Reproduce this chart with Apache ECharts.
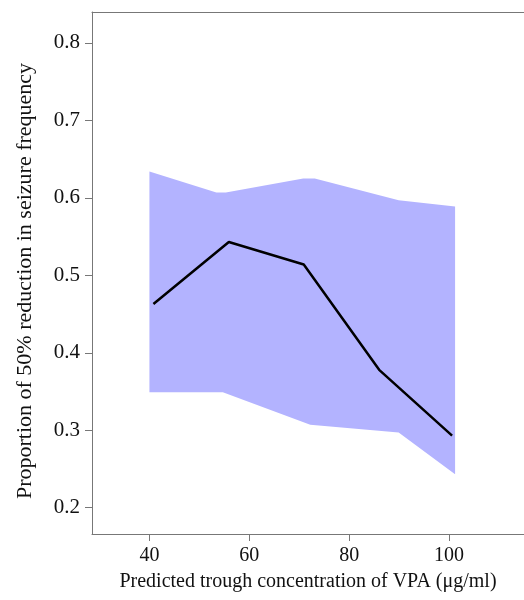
<!DOCTYPE html>
<html>
<head>
<meta charset="utf-8">
<script src="https://cdn.jsdelivr.net/npm/echarts@6/dist/echarts.min.js"></script>
<style>
	html, body { margin: 0; padding: 0; background: #fff; }
	#chart { width: 524px; height: 600px; }
</style>
</head>
<body>
<div id="chart"></div>
<script>
// 평균 곡선
var lineX = [40.8, 55.9, 70.9, 86.0, 100.6];
var lineY = [0.463, 0.543, 0.514, 0.378, 0.293];

// 신뢰구간 위쪽 경계
var upperX = [40.0, 53.4, 55.3, 70.8, 73.1, 89.9, 101.2];
var upperY = [0.634, 0.607, 0.607, 0.625, 0.625, 0.597, 0.589];

// 신뢰구간 아래쪽 경계
var lowerX = [40.0, 45.2, 54.7, 72.2, 89.9, 101.2];
var lowerY = [0.349, 0.349, 0.349, 0.307, 0.297, 0.243];

// 눈금
var xTicks = [40, 60, 80, 100];
var yTicks = [0.2, 0.3, 0.4, 0.5, 0.6, 0.7, 0.8];

var chart = echarts.init(document.getElementById('chart'));

// 데이터 핸들러
var lineData = lineX.map(function (x, i) { return [x, lineY[i]]; });
var bandData = [];
upperX.forEach(function (x, i) { bandData.push([x, upperY[i]]); });
for (var i = lowerX.length - 1; i >= 0; i--) {
	bandData.push([lowerX[i], lowerY[i]]);
}

var font = 'Liberation Serif';

var option = {
	animation: false,
	grid: {
		left: 92,
		top: 12,
		right: -7,
		bottom: 66
	},
	xAxis: [{
		type: 'value',
		min: 28.5,
		max: 115,
		name: 'Predicted trough concentration of VPA (\u03bcg/ml)',
		nameLocation: 'middle',
		nameGap: 38,
		nameTextStyle: {
			fontFamily: font,
			fontSize: 20,
			color: '#111'
		},
		axisLine: { show: true, lineStyle: { color: '#777', width: 1 } },
		axisTick: {
			show: true,
			inside: false,
			length: 7,
			customValues: xTicks,
			lineStyle: { color: '#777' }
		},
		axisLabel: {
			customValues: xTicks,
			margin: 12,
			fontFamily: font,
			fontSize: 20,
			color: '#111'
		},
		splitLine: { show: false }
	}, {
		type: 'value',
		position: 'top',
		min: 28.5,
		max: 115,
		axisLine: { show: true, lineStyle: { color: '#777', width: 1 } },
		axisTick: { show: false },
		axisLabel: { show: false },
		splitLine: { show: false }
	}],
	yAxis: {
		type: 'value',
		min: 0.166,
		max: 0.84,
		name: 'Proportion of 50% reduction in seizure frequency',
		nameLocation: 'middle',
		nameGap: 56,
		nameTextStyle: {
			fontFamily: font,
			fontSize: 22,
			color: '#111',
			padding: [0, 16, 0, 0]
		},
		axisLine: { show: true, lineStyle: { color: '#777', width: 1 } },
		axisTick: {
			show: true,
			length: 7,
			customValues: yTicks,
			lineStyle: { color: '#777' }
		},
		axisLabel: {
			customValues: yTicks,
			margin: 12,
			fontFamily: font,
			fontSize: 21,
			color: '#111',
			formatter: function (v) { return v.toFixed(1); }
		},
		splitLine: { show: false }
	},
	series: [{
		type: 'custom',
		data: [0],
		silent: true,
		renderItem: function (params, api) {
			var pts = bandData.map(function (d) { return api.coord(d); });
			return {
				type: 'polygon',
				shape: { points: pts },
				style: { fill: '#b3b3ff', stroke: null }
			};
		},
		z: 1
	}, {
		type: 'line',
		data: lineData,
		symbol: 'none',
		lineStyle: { color: '#000', width: 2.5 },
		z: 2
	}]
};

chart.setOption(option);
</script>
</body>
</html>
